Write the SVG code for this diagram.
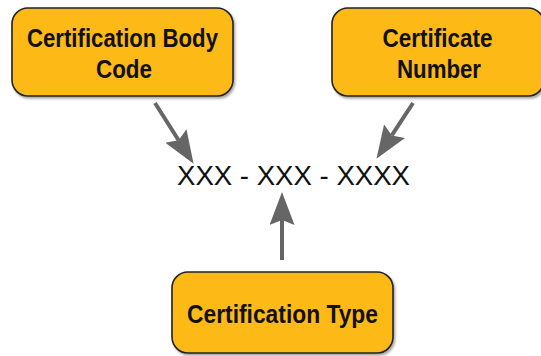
<svg xmlns="http://www.w3.org/2000/svg" width="541" height="356" viewBox="0 0 541 356">
<style>
.box{fill:#FDB913;stroke:#222;stroke-width:1.6}
.lbl{font-family:"Liberation Sans",Arial,sans-serif;font-weight:bold;font-size:25px;fill:#111;text-anchor:middle}
.code{font-family:"Liberation Sans",Arial,sans-serif;font-size:28px;fill:#111}
.conn{stroke:#666;stroke-width:4;fill:none;marker-end:url(#head)}
</style>
<defs>
<marker id="head" viewBox="0 0 33 25" refX="5" refY="12.5" markerWidth="33" markerHeight="25" markerUnits="userSpaceOnUse" orient="auto">
<path d="M0,0 L33,12.5 L0,25 L5,12.5 Z" fill="#666"/>
</marker>
<filter id="sh" x="-10%" y="-10%" width="125%" height="130%">
<feDropShadow dx="1.5" dy="2" stdDeviation="1.2" flood-color="#000" flood-opacity="0.35"/>
</filter>
</defs>
<rect width="541" height="356" fill="#fff"/>
<g id="connectors">
<line class="conn" x1="155" y1="103" x2="178.6" y2="140.2"/>
<line class="conn" x1="413" y1="103" x2="391.8" y2="135.4"/>
<line class="conn" x1="282" y1="260" x2="282" y2="220"/>
</g>
<g id="body-code">
<rect class="box" filter="url(#sh)" x="12" y="8" width="221" height="88" rx="16"/>
<text class="lbl" x="122.5" y="47" textLength="191" lengthAdjust="spacingAndGlyphs">Certification Body</text>
<text class="lbl" x="124" y="78" textLength="56" lengthAdjust="spacingAndGlyphs">Code</text>
</g>
<g id="cert-number">
<rect class="box" filter="url(#sh)" x="332" y="8" width="212" height="88" rx="16"/>
<text class="lbl" x="437.5" y="47" textLength="110" lengthAdjust="spacingAndGlyphs">Certificate</text>
<text class="lbl" x="439" y="78" textLength="84" lengthAdjust="spacingAndGlyphs">Number</text>
</g>
<g id="cert-type">
<rect class="box" filter="url(#sh)" x="172" y="272" width="221" height="81" rx="16"/>
<text class="lbl" x="282.5" y="323" textLength="191" lengthAdjust="spacingAndGlyphs">Certification Type</text>
</g>
<g id="code-format">
<text class="code" x="177" y="185" textLength="233" lengthAdjust="spacingAndGlyphs">XXX - XXX - XXXX</text>
</g>
</svg>
